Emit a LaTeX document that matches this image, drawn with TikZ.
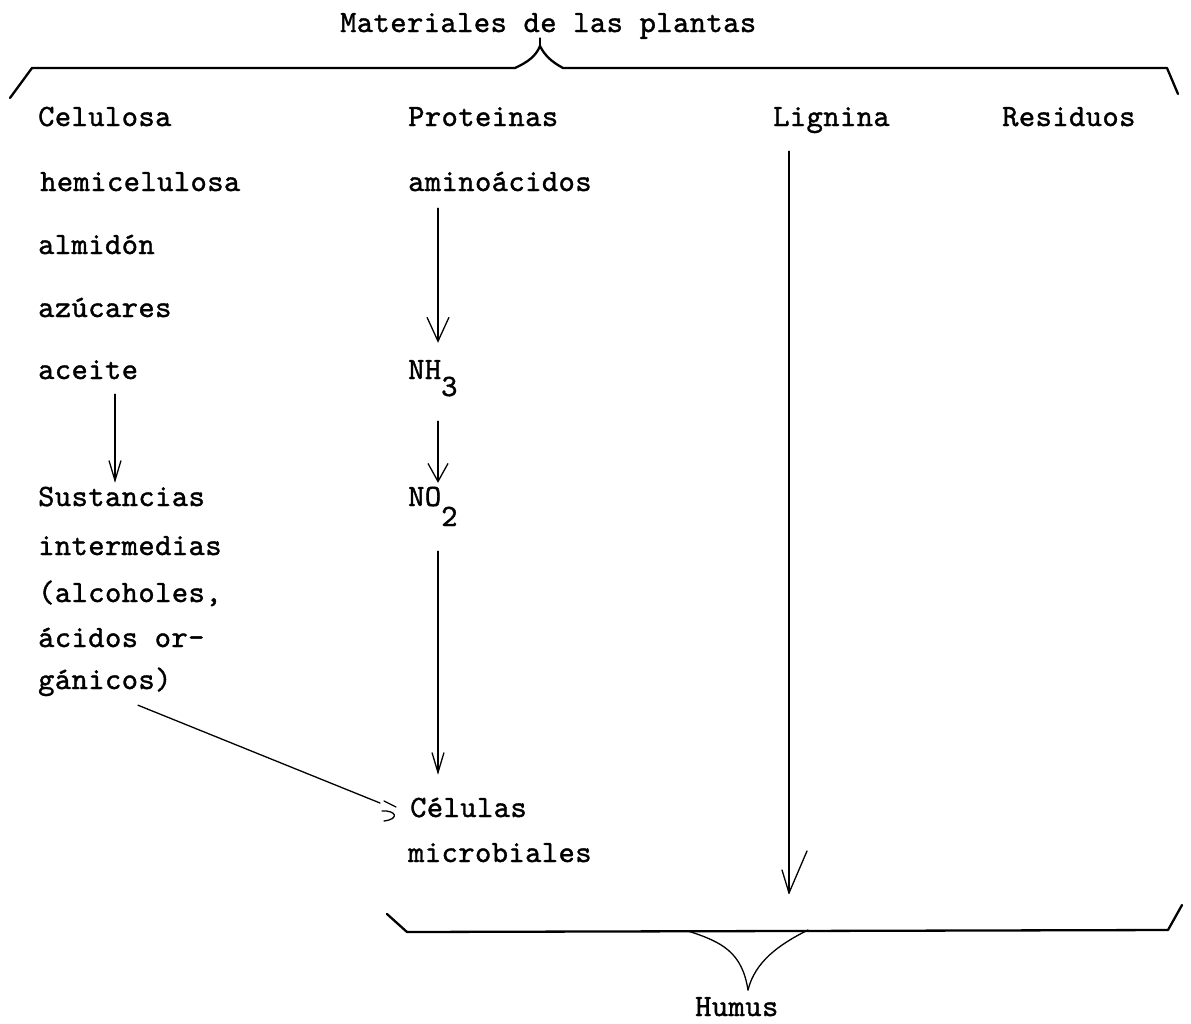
\documentclass[tikz,border=0pt]{standalone}
\usepackage{fontspec}
\newfontfamily\tw{lmmono10-regular.otf}[LetterSpace=1.4,FakeBold=1.2]
\usetikzlibrary{arrows.meta,calc}
\begin{document}
\begin{tikzpicture}[x=1pt,y=-1pt,
  txt/.style={font=\tw\fontsize{31pt}{34pt}\selectfont, inner sep=0pt, anchor=base west, text height=17pt, text depth=5pt},
  conn/.style={line width=1.3pt, line cap=round, line join=round},
  bracepath/.style={line width=2.3pt, line cap=round, line join=round},
  tipwide/.style={-{Straight Barb[length=24pt,width=22pt]}},
  tipmid/.style={-{Straight Barb[length=18pt,width=20pt]}},
  tipnarrow/.style={-{Straight Barb[length=20pt,width=12pt]}}]
\useasboundingbox (0,0) rectangle (1191,1023);
\fill[white] (0,0) rectangle (1191,1023);

% texts
\node[txt] (title) at (340,32) {Materiales de las plantas};
\node[txt] (celul) at (38,126) {Celulosa};
\node[txt] (prot) at (408,126) {Proteinas};
\node[txt] (lig) at (773,126) {Lignina};
\node[txt] (res) at (1002,126) {Residuos};
\node[txt] (hemi) at (40,191) {hemicelulosa};
\node[txt] (amino) at (408,191) {aminoácidos};
\node[txt] (almi) at (38,254) {almidón};
\node[txt] (azu) at (38,317) {azúcares};
\node[txt] (acei) at (38,379) {aceite};
\node[txt] (nh) at (408,379) {NH\raisebox{-17pt}{3}};
\node[txt] (sus) at (38,506) {Sustancias};
\node[txt] (nod) at (408,506) {NO\raisebox{-20pt}{2}};
\node[txt] (inter) at (38,555) {intermedias};
\node[txt] (alc) at (38,602) {(alcoholes,};
\node[txt] (aci) at (38,647) {ácidos or-};
\node[txt] (gan) at (38,689) {gánicos)};
\node[txt] (cells) at (410,817) {Células};
\node[txt] (micro) at (408,862) {microbiales};
\node[txt] (hum) at (695,1016) {Humus};

% column coordinates
\coordinate (cL) at (115,0);
\coordinate (cP) at (438,0);
\coordinate (ligtip) at (789,893);

% arrows
\draw[conn, tipnarrow, shorten <=10pt, shorten >=6pt] (acei.south -| cL) -- (sus.north -| cL);
\draw[conn, tipwide, shorten <=12pt, shorten >=19pt] (amino.south -| cP) -- (nh.north -| cP);
\draw[conn, tipmid, shorten <=37pt, shorten >=6pt] (nh.south -| cP) -- (nod.north -| cP);
\draw[conn, tipnarrow, shorten <=40pt, shorten >=25pt] (nod.south -| cP) -- (cells.north -| cP);
\draw[conn, shorten <=20pt] (lig.south -| ligtip) -- (ligtip);
\draw[conn] (ligtip) -- ++(-7,-23);
\draw[conn] (ligtip) -- ++(18,-42);

% diagonal with curl
\coordinate (dstart) at ($(gan.south west)+(100,11)$);
\coordinate (dend) at ($(cells.west)+(-30,-8)$);
\draw[conn] (dstart) -- (dend);
\draw[conn] ($(dend)+(4,-2)$) -- ++(12,6);
\draw[conn] ($(dend)+(2,8)$) .. controls ($(dend)+(16,7)$) and ($(dend)+(20,16)$) .. ($(dend)+(4,18)$);

% top brace
\draw[bracepath] (10,98) -- (32,68) -- (515,68) .. controls (528,62) and (536,56) .. (540,46) .. controls (545,56) and (552,62) .. (563,68) -- (1167,68) -- (1178,94);
\draw[conn] (540,46) -- (540,38);

% bottom brace
\draw[bracepath] (387,914) -- (407,932) -- (1168,930) -- (1182,905);
\draw[conn] (688,931) .. controls (722,942) and (742,952) .. (748,990);
\draw[conn] (808,930) .. controls (778,945) and (755,962) .. (748,990);
\end{tikzpicture}
\end{document}
